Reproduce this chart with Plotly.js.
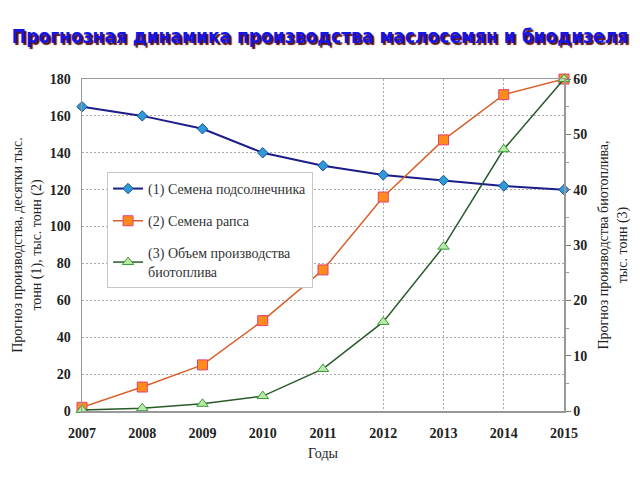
<!DOCTYPE html>
<html>
<head>
<meta charset="utf-8">
<script src="https://cdn.plot.ly/plotly-3.0.1.min.js"></script>
<style>html,body{margin:0;padding:0;background:#fff;}#chart{width:640px;height:480px;}</style>
</head>
<body>
<div id="chart"></div>
<script>
const years = [2007, 2008, 2009, 2010, 2011, 2012, 2013, 2014, 2015];
const sunflower = [165, 160, 153, 140, 133, 128, 125, 122, 120];
const rapeseed = [2, 13, 25, 49, 76.5, 116, 147, 171.5, 180];
const biofuel = [0.2, 0.5, 1.3, 2.7, 7.6, 16.1, 29.7, 47.3, 60];
const gridYears = [2012, 2013, 2014];
const names = ['(1) Семена подсолнечника', '(2) Семена рапса', '(3) Объем производства<br>биотоплива'];

const serif = 'Liberation Serif, Times New Roman, serif';

const traces = [
  {x: years, y: sunflower, name: names[0], type: 'scatter', mode: 'lines+markers',
   line: {color: '#1c1c8a', width: 2}, legendgroup: 'a',
   marker: {symbol: 'diamond', size: 8, color: '#2e9ad6', line: {color: '#1a4f9a', width: 1}},
   cliponaxis: false},
  {x: years, y: rapeseed, name: names[1], type: 'scatter', mode: 'lines+markers',
   line: {color: '#d9602a', width: 1.5}, legendgroup: 'b',
   marker: {symbol: 'square', size: 10, color: '#ff8c1a', line: {color: '#e0407a', width: 1}},
   cliponaxis: false},
  {x: years, y: biofuel, name: names[2], type: 'scatter', mode: 'lines+markers', yaxis: 'y2',
   line: {color: '#2a5a2a', width: 1.5}, legendgroup: 'c',
   marker: {symbol: 'triangle-up', size: 10, color: '#b6eaa6', line: {color: '#3a9a3a', width: 1}},
   cliponaxis: false},
  {x: years, y: years.map(() => null), xaxis: 'x2', type: 'scatter', mode: 'markers',
   showlegend: false, hoverinfo: 'skip'}
];

const layout = {
  width: 640, height: 480,
  margin: {l: 82, r: 76, t: 79, b: 69},
  paper_bgcolor: '#fff', plot_bgcolor: '#fff',
  showlegend: true,
  title: {
    text: 'Прогнозная динамика производства маслосемян и биодизеля',
    x: 0.5, xanchor: 'center', y: 0.925, yanchor: 'middle',
    font: {family: 'DejaVu Sans Condensed, DejaVu Sans, sans-serif', size: 19, weight: 'bold',
           stretch: 'condensed',
           color: '#1414e6', shadow: '2px 2px 1px #5a1010'}
  },
  // main x axis: carries only the dotted grid lines at 2012–2014
  xaxis: {
    range: [2007, 2015], tickmode: 'array', tickvals: gridYears,
    showticklabels: false, ticks: '',
    showgrid: true, gridcolor: '#aaa', griddash: '2px,2px', gridwidth: 1,
    zeroline: false,
    showline: true, linecolor: '#999', linewidth: 1.5, mirror: true
  },
  // overlay x axis: carries the year labels and the axis title
  xaxis2: {
    overlaying: 'x', side: 'bottom', anchor: 'y',
    range: [2007, 2015], tickmode: 'array', tickvals: years,
    showgrid: false, zeroline: false, showline: false, ticks: '',
    ticklabelstandoff: 12,
    tickfont: {family: serif, size: 14, weight: 'bold', color: '#222'},
    title: {text: 'Годы', font: {family: serif, size: 14, color: '#222'}, standoff: 8}
  },
  yaxis: {
    range: [0, 180], dtick: 20, tick0: 0,
    showgrid: true, gridcolor: '#aaa', griddash: '2px,2px', gridwidth: 1,
    zeroline: false, showline: true, linecolor: '#999', linewidth: 1.5, mirror: true,
    ticks: '', ticklabelstandoff: 7,
    tickfont: {family: serif, size: 14, weight: 'bold', color: '#222'},
    title: {text: 'Прогноз производства, десятки тыс.<br>тонн (1), тыс. тонн (2)',
            font: {family: serif, size: 14, color: '#222'}, standoff: 5}
  },
  yaxis2: {
    overlaying: 'y', side: 'right', range: [0, 60], dtick: 10, tick0: 0,
    showgrid: false, zeroline: false, showline: true, linecolor: '#999', linewidth: 1.5,
    ticks: 'outside', ticklen: 5, tickcolor: '#777',
    minor: {dtick: 5, ticks: 'outside', ticklen: 3, tickcolor: '#999', showgrid: false},
    tickfont: {family: serif, size: 14, weight: 'bold', color: '#222'},
    title: {text: 'Прогноз производства биотоплива,<br>тыс. тонн (3)',
            font: {family: serif, size: 14, color: '#222'}, standoff: 12}
  },
  legend: {
    x: 0.052, y: 0.72, xanchor: 'left', yanchor: 'top',
    bgcolor: '#fff', bordercolor: '#c8c8c8', borderwidth: 1,
    font: {family: serif, size: 14, color: '#333'},
    tracegroupgap: 11, itemwidth: 30,
    traceorder: 'grouped'
  }
};

Plotly.newPlot('chart', traces, layout, {displayModeBar: false, staticPlot: true});
</script>
</body>
</html>
